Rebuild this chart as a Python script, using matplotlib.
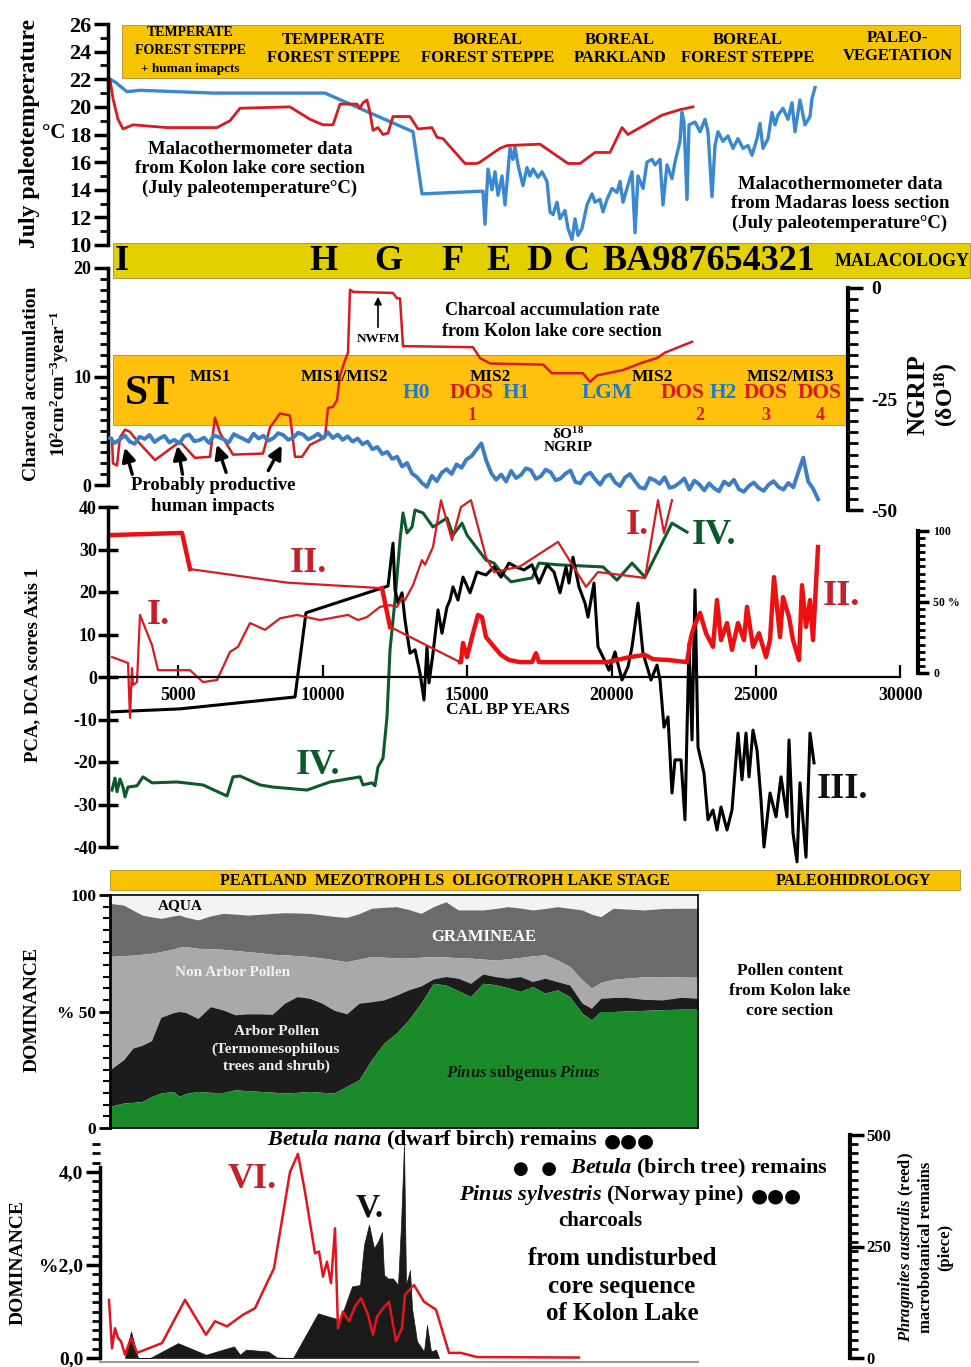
import matplotlib
matplotlib.use('Agg')
import matplotlib.pyplot as plt
import numpy as np
from matplotlib.patches import Rectangle, FancyArrowPatch
from matplotlib.ticker import MultipleLocator

plt.rcParams['font.family'] = ['Liberation Serif', 'DejaVu Serif']
plt.rcParams['font.weight'] = 'bold'
plt.rcParams['mathtext.fontset'] = 'custom'
plt.rcParams['mathtext.rm'] = 'Liberation Serif:bold'
plt.rcParams['mathtext.it'] = 'Liberation Serif:italic:bold'
plt.rcParams['mathtext.bf'] = 'Liberation Serif:bold'
plt.rcParams['axes.linewidth'] = 2.5
plt.rcParams['axes.unicode_minus'] = False

# ---------------- data (cal BP years / panel units) ----------------
# July paleotemperature, Kolon lake (red)
temp_kolon_age = [2632, 2735, 2909, 3082, 3428, 4605, 6337, 6787, 7133, 8864,
                  9557, 10007, 10353, 10596, 11184, 11288, 11392, 11530, 11634, 11738,
                  11911, 12085, 12258, 12431, 13019, 13296, 13781, 13954, 14162, 14924,
                  15339, 15443, 16136, 16378, 17521, 18490, 18906, 19425, 19945, 20360,
                  20568, 21745, 22368, 22818]
temp_kolon_c = [22.0, 20.6, 19.1, 18.4, 18.7, 18.5, 18.5, 19.0, 19.9, 20.0,
                19.1, 18.7, 18.7, 20.2, 20.2, 19.9, 20.3, 20.5, 19.6, 18.3,
                18.5, 18.0, 18.1, 19.3, 19.3, 18.4, 18.5, 17.8, 17.7, 15.9,
                15.9, 16.0, 17.0, 17.2, 17.3, 15.9, 15.9, 16.7, 16.7, 18.5,
                18.0, 19.4, 19.8, 20.0]

# July paleotemperature, Madaras loess (blue)
temp_madaras_age = [2632, 2805, 3220, 3670, 6198, 10076, 13123, 13435,
                    15547, 15616, 15720, 15859, 15963, 16066, 16205, 16309, 16482, 16586,
                    16655, 16759, 16932, 17071, 17174, 17278, 17452, 17590, 17763, 17867,
                    17971, 18109, 18213, 18386, 18490, 18629, 18733, 18837, 18975, 19148,
                    19321, 19425, 19598, 19702, 19841, 20014, 20187, 20291, 20395, 20533,
                    20707, 20811, 20914, 21087, 21226, 21399, 21503, 21676, 21780, 21918,
                    22091, 22195, 22368, 22438, 22507, 22611, 22680, 22888, 23061, 23234,
                    23338, 23476, 23580, 23684, 23857, 24030, 24204, 24377, 24550, 24723,
                    24862, 25035, 25139, 25242, 25416, 25554, 25658, 25762, 25935, 26108,
                    26246, 26350, 26523, 26697, 26870, 26939, 27043]
temp_madaras_c = [22.0, 21.8, 21.1, 21.2, 21.0, 21.0, 18.2, 13.7,
                  13.9, 11.5, 15.5, 14.0, 15.3, 13.6, 15.0, 12.9, 17.0, 16.2,
                  17.1, 15.8, 14.3, 15.6, 15.0, 15.5, 14.9, 15.3, 14.6, 12.4,
                  12.2, 13.1, 11.9, 12.5, 11.2, 10.4, 11.9, 10.7, 11.2, 12.9,
                  13.7, 13.1, 13.3, 12.4, 13.3, 14.1, 13.8, 14.6, 13.1, 14.1,
                  15.3, 10.9, 15.0, 14.1, 16.0, 16.2, 15.8, 16.2, 12.9, 15.8,
                  14.8, 16.0, 17.5, 19.6, 18.9, 13.3, 18.7, 18.9, 18.2, 19.1,
                  18.2, 13.5, 17.2, 18.2, 17.5, 17.9, 17.0, 17.7, 17.0, 17.2,
                  16.5, 17.7, 18.8, 17.0, 17.7, 19.6, 18.7, 19.4, 19.9, 19.1,
                  20.3, 18.2, 20.5, 18.7, 19.3, 20.6, 21.4]

veg_labels = ['TEMPERATE\nFOREST STEPPE\n+ human imapcts', 'TEMPERATE\nFOREST STEPPE',
              'BOREAL\nFOREST STEPPE', 'BOREAL\nPARKLAND', 'BOREAL\nFOREST STEPPE',
              'PALEO-\nVEGETATION']
malac_labels = ['I', 'H', 'G', 'F', 'E', 'D', 'C', 'BA987654321']

# Charcoal accumulation rate (10^2 cm^2 cm^-3 year^-1)
charcoal_age = [2701, 2735, 2874, 2978, 3151, 3324, 3566, 4190, 5055, 5575,
                6094, 6267, 6440, 6891, 7929, 8172, 8518, 8864, 9037, 9280,
                9557, 10076, 10180, 10353, 10492, 10596, 10769, 10873, 10942, 11046,
                12431, 12569, 12673, 12777, 15201, 15443, 15789, 17625, 17936, 19010,
                19252, 19494, 20395, 21087, 21572, 21849, 22784]
charcoal_rate = [4.3, 2.0, 1.8, 4.4, 5.1, 4.9, 4.1, 2.3, 4.0, 2.5,
                 2.6, 6.2, 4.8, 2.8, 2.9, 5.3, 6.6, 6.4, 2.6, 2.6,
                 3.7, 4.4, 7.1, 7.2, 7.8, 10.1, 11.5, 12.2, 18.0, 17.8,
                 17.7, 17.2, 17.2, 12.8, 12.7, 11.7, 11.2, 11.1, 10.3, 10.3,
                 9.5, 10.1, 10.6, 11.3, 11.7, 12.2, 13.2]

# NGRIP d18O, evenly spaced samples between these ages
ngrip_first_age, ngrip_last_age = 2630, 27150
ngrip_d18o = [-33.8, -34.9, -34.1, -33.2, -34.6, -35.1, -33.5, -34.0, -33.1, -34.7,
              -33.9, -33.3, -34.8, -34.2, -35.0, -33.4, -33.0, -34.5, -34.3, -33.7,
              -34.9, -33.2, -33.6, -34.1, -34.8, -32.9, -33.5, -34.0, -34.6, -32.8,
              -33.9, -33.3, -34.4, -33.8, -32.7, -33.1, -34.2, -33.7, -32.6, -33.0,
              -34.1, -33.6, -32.8, -33.9, -32.5,
              -33.8, -33.0, -34.2, -33.4, -34.6, -33.9,
              -35.2, -34.6, -36.3, -35.8, -37.4, -36.9, -38.5, -38.0, -40.2, -39.4, -41.8, -42.6,
              -43.9, -44.8, -42.3, -43.5, -41.6,
              -40.8, -41.9, -39.7, -40.5, -38.6, -37.9, -36.4, -35.0,
              -38.9, -41.7, -43.2, -42.0, -43.6,
              -41.2, -42.8, -42.1, -40.6, -41.0, -43.0, -42.4, -40.9, -41.5, -43.3,
              -42.9, -41.8, -41.1, -43.7, -44.0, -42.2, -41.6, -43.1, -44.3, -42.5,
              -42.0, -43.8, -44.6, -42.7, -41.9, -43.5, -44.9, -45.2, -42.8, -43.3,
              -44.1, -42.6, -45.0, -44.7, -43.9, -42.9, -45.4, -43.4, -44.2, -45.6,
              -44.0, -45.1, -45.8, -43.6, -44.4, -43.2, -45.3, -45.9, -44.6, -43.8,
              -45.0, -45.7, -44.3, -43.5, -44.8, -45.4, -43.9, -44.9, -41.5, -38.2,
              -43.6, -45.2, -47.6]

# PCA / DCA scores, axis 1
pca_I_age = [2701, 3255, 3324, 3393, 3428, 3566, 3670, 4086, 4294, 5402,
             5852, 6337, 6787, 7064, 7479, 7999, 8518, 9107, 9903, 10873,
             11219, 11530, 11981, 12327, 12569, 12742, 12846, 13123, 13435, 13539,
             13816, 14093, 14474, 14785, 15131, 15651, 15928, 16828, 18144, 19114,
             19529, 21157, 21607, 21814, 22091]
pca_I = [4.7, 3.3, -9.6, 2.1, -1.9, -1.2, 14.6, 7.5, 1.6, 1.6,
         -1.2, -0.7, 5.9, 7.1, 12.7, 11.1, 13.8, 14.6, 13.4, 14.6,
         13.4, 14.1, 16.5, 16.9, 16.5, 18.6, 18.1, 21.6, 27.5, 26.4,
         30.6, 41.6, 32.2, 40.0, 41.6, 28.2, 24.7, 26.0, 31.8, 21.2,
         24.7, 23.3, 41.6, 33.9, 41.6]

pca_II_age = [2701, 5125, 5402, 8760, 12050, 12327, 14751,
              14785, 14854, 14993, 15201, 15374, 15512, 15651, 15928, 16170, 16447,
              16828, 17244, 17382, 17486, 19841, 20637, 21157, 21434, 21953, 22611,
              22749, 22853, 23061, 23269, 23511, 23650, 23788, 23996, 24169, 24377,
              24584, 24688, 24896, 25104, 25346, 25485, 25623, 25831, 25935, 26143,
              26281, 26489, 26593, 26731, 26870, 26974, 27147]
pca_II = [33.4, 33.9, 25.4, 22.2, 20.9, 11.8, 3.5,
          3.5, 8.0, 4.7, 10.3, 14.6, 14.1, 9.4, 7.1, 5.2, 4.0,
          3.5, 3.5, 5.6, 3.5, 3.5, 4.7, 5.2, 4.2, 4.0, 3.5,
          9.4, 11.8, 15.1, 10.3, 7.1, 18.1, 8.7, 12.7, 6.4, 12.7,
          8.7, 16.5, 7.1, 10.3, 4.7, 8.7, 23.5, 9.4, 18.8, 14.1,
          8.7, 4.0, 21.6, 11.8, 18.1, 8.7, 30.6]

pca_III_age = [2701, 5055, 9037, 9418, 12258, 12431, 12500, 12604, 12742, 12846,
               13019, 13193, 13366, 13504, 13608, 13677, 13816, 13989, 14127, 14301,
               14404, 14508, 14681, 14855, 15097, 15339, 15651, 15928, 16170, 16447,
               16690, 16967, 17244, 17486, 17763, 18006, 18213, 18421, 18525, 18663,
               18871, 19079, 19183, 19391, 19529, 19702, 19910, 20118, 20360, 20568,
               20707, 20914, 21087, 21364, 21572, 21676, 21814, 21953, 22091, 22195,
               22403, 22541, 22680, 22784, 22888, 22992, 23199, 23338, 23511, 23650,
               23788, 23996, 24169, 24377, 24515, 24654, 24758, 24896, 25035, 25173,
               25277, 25485, 25693, 25866, 26073, 26143, 26281, 26420, 26523, 26731,
               26870, 27009]
pca_III = [-8.2, -7.5, -4.7, 15.1, 21.4, 31.5, 20.5, 17.4, 19.8, 13.4,
           5.6, 6.4, 0.9, -5.4, 7.1, -1.4, 5.6, 15.8, 10.3, 16.5,
           18.1, 21.2, 18.1, 23.5, 19.8, 24.7, 24.0, 25.9, 23.5, 26.8,
           25.9, 25.2, 26.4, 22.1, 26.4, 24.7, 19.8, 25.9, 22.1, 28.2,
           21.2, 17.4, 14.1, 22.1, 7.1, 4.7, 1.6, 5.9, -0.7, 2.4,
           7.1, 17.4, 5.6, -0.7, 2.8, -0.7, -11.8, -9.4, -27.3, -19.5,
           -19.5, -33.6, 8.0, -14.8, 20.5, -16.5, -22.6, -33.6, -31.3, -36.0,
           -30.6, -36.0, -31.3, -13.2, -24.2, -13.2, -23.5, -12.5, -17.2, -28.9,
           -40.0, -27.3, -32.9, -23.5, -32.9, -14.8, -36.7, -43.5, -24.9, -42.4,
           -13.2, -20.2]

pca_IV_age = [2701, 2805, 2874, 2978, 3082, 3151, 3255, 3566, 3774, 4086,
              4952, 5852, 6683, 6891, 7133, 7825, 8276, 9453, 10249, 11288,
              11392, 11704, 11807, 11911, 12085, 12223, 12327, 12500, 12673, 12777,
              12915, 13089, 13193, 13470, 13816, 14301, 14508, 14820, 14993, 15651,
              15928, 16170, 16517, 17244, 17486, 18144, 19702, 20187, 20707, 21157,
              22091, 22611]
pca_IV = [-26.6, -23.8, -27.0, -24.0, -25.9, -28.2, -25.9, -25.6, -23.5, -24.9,
          -24.7, -25.4, -28.0, -23.5, -23.3, -25.4, -25.9, -26.6, -24.7, -23.5,
          -25.4, -24.9, -25.6, -21.2, -19.1, -9.4, 6.4, 18.1, 32.2, 38.6,
          33.9, 35.3, 39.3, 38.6, 35.3, 37.4, 33.4, 36.2, 33.4, 27.5,
          26.8, 24.7, 22.4, 23.3, 26.8, 26.4, 25.9, 22.8, 26.8, 23.5,
          36.2, 34.1]

x_ticks = [5000, 10000, 15000, 20000, 25000, 30000]

# Pollen (cumulative tops of each layer, %)
pollen_age = [2632, 3103, 3425, 3747, 4069, 4391, 4820, 5035, 5249, 5679,
              6108, 6537, 6967, 7396, 7822, 8251, 8681, 9110, 9540, 9969,
              10398, 10828, 11257, 11686, 12116, 12545, 12971, 13400, 13830, 14259,
              14688, 15118, 15547, 15976, 16406, 16835, 17264, 17694, 18123, 18549,
              18979, 19301, 19623, 20052, 20481, 21125, 21769, 22414, 22992]
pinus_top = [9.3, 10.7, 11.0, 11.4, 13.5, 15.0, 15.7, 13.6, 14.8, 15.7,
             15.3, 15.2, 16.4, 16.0, 15.7, 15.4, 15.0, 15.3, 15.7, 15.3,
             15.0, 17.9, 20.7, 29.3, 36.4, 40.7, 46.4, 53.6, 62.1, 61.4,
             58.9, 56.4, 62.1, 61.5, 60.2, 58.6, 60.7, 57.9, 59.3, 56.4,
             49.3, 46.4, 50.0, 50.0, 50.2, 50.5, 50.8, 51.0, 51.0]
arbor_top = [25.0, 29.3, 34.3, 35.5, 37.5, 47.5, 49.5, 50.0, 49.6, 47.0,
             52.1, 50.7, 48.6, 49.0, 49.0, 48.8, 53.6, 56.4, 55.7, 53.6,
             50.5, 49.0, 53.6, 54.2, 55.0, 57.0, 59.3, 61.0, 64.0, 65.0,
             64.3, 62.1, 66.1, 65.0, 64.3, 65.0, 62.9, 64.3, 62.8, 61.4,
             53.6, 51.4, 55.7, 56.0, 56.1, 55.2, 55.0, 56.1, 55.7]
nap_top = [73.6, 74.0, 74.2, 74.6, 75.0, 75.7, 76.8, 77.6, 77.9, 77.1,
           77.0, 76.7, 76.2, 75.7, 75.2, 74.6, 74.3, 74.0, 73.6, 73.0,
           72.2, 71.4, 72.5, 73.6, 73.3, 73.0, 72.9, 73.3, 73.6, 73.4,
           73.1, 72.9, 72.5, 72.1, 72.6, 73.2, 73.9, 74.3, 72.1, 69.3,
           63.6, 60.0, 62.5, 63.8, 64.3, 64.9, 65.0, 64.8, 64.7]
gramineae_top = [96.4, 95.7, 93.5, 91.4, 90.6, 90.0, 91.0, 91.4, 90.5, 89.3,
                 91.0, 92.1, 91.8, 91.4, 91.7, 92.1, 92.4, 92.3, 92.1, 91.5,
                 90.8, 90.4, 92.0, 94.3, 94.7, 95.0, 93.8, 92.1, 95.0, 97.1,
                 93.6, 93.6, 93.6, 94.2, 95.0, 94.4, 93.6, 94.2, 95.0, 94.3,
                 93.6, 91.8, 90.7, 94.3, 94.0, 93.6, 94.2, 94.3, 94.3]

# Macrobotanical remains (dominance %)
vi_age = [2597, 2701, 2805, 2909, 3012, 3151, 3359, 3566, 4432, 5229,
          5956, 6267, 6683, 7237, 7652, 8310, 8864, 9141, 9384, 9730,
          9868, 10007, 10145, 10284, 10422, 10526, 10699, 10907, 11115, 11323,
          11565, 11738, 11877, 12085, 12292, 12535, 12742, 12846, 13158, 13504,
          13920, 14370, 14785, 15339, 18871]
vi_pct = [1.25, 0.21, 0.64, 0.43, 0.36, 0.07, 0.43, 0.11, 0.32, 1.25,
          0.50, 0.79, 0.68, 0.93, 1.07, 1.93, 4.00, 4.39, 3.57, 2.25,
          2.29, 1.75, 2.07, 1.61, 2.79, 0.64, 1.00, 0.79, 1.11, 1.29,
          0.93, 0.50, 0.89, 1.07, 1.21, 0.36, 0.64, 1.36, 1.57, 1.21,
          1.04, 0.11, 0.11, 0.02, 0.01]
v_age = [3151, 3359, 3601, 4017, 4986, 5956, 6925, 7133, 7341, 8102,
         8414, 8968, 9834, 10596, 11011, 11288, 11427, 11600, 11773, 11911,
         12050, 12119, 12258, 12431, 12604, 12708, 12812, 12881, 13019, 13089,
         13262, 13504, 13608, 13747, 13920, 14024]
v_pct = [0, 0.57, 0, 0, 0.32, 0.07, 0.25, 0.07, 0.18, 0.14,
         0.01, 0, 0.96, 0.82, 1.54, 1.57, 2.43, 2.87, 2.36, 2.50,
         2.71, 1.79, 1.71, 1.71, 1.57, 2.86, 4.60, 1.57, 1.89, 1.07,
         0.36, 0.14, 0.71, 0.14, 0.18, 0]

# ---------------- layout helpers (pixel space of the 971x1367 image) ----------------
W, H = 971, 1367
PX0, YR_PX = 34, 34.626       # x pixel of age 0, years per pixel

RED = '#DA1A1F'
LRED = '#C7202B'
BLUE = '#3A88CF'
TBLUE = '#1E7BC4'
GREEN = '#0C5A2C'

fig = plt.figure(figsize=(W / 100, H / 100), dpi=100)


def box(l, t, r, b):
    return [l / W, 1 - b / H, (r - l) / W, (b - t) / H]


def span(l, r):
    return ((l - PX0) * YR_PX, (r - PX0) * YR_PX)


def ftext(px, py, s, size=12, **kw):
    kw.setdefault('ha', 'center')
    kw.setdefault('va', 'center')
    fig.text(px / W, 1 - py / H, s, fontsize=size, fontweight='bold', **kw)


def band(l, t, r, b, color):
    fig.add_artist(Rectangle((l / W, 1 - b / H), (r - l) / W, (b - t) / H,
                             transform=fig.transFigure, facecolor=color,
                             edgecolor='#B89A3A', lw=0.7, zorder=-1))


def farrow(x1, y1, x2, y2, **kw):
    fig.add_artist(FancyArrowPatch((x1 / W, 1 - y1 / H), (x2 / W, 1 - y2 / H),
                                   transform=fig.transFigure, **kw))


def only_spine(ax, side):
    for s in ['top', 'bottom', 'left', 'right']:
        ax.spines[s].set_visible(s == side)
    ax.set_facecolor('none')
    ax.set_xticks([])


# ---------------- 1. July paleotemperature ----------------
ax_t = fig.add_axes(box(108, 24, 960, 245))
only_spine(ax_t, 'left')
ax_t.set_xlim(*span(108, 960))
ax_t.set_ylim(10, 26)
ax_t.plot(temp_madaras_age, temp_madaras_c, color=BLUE, lw=2.4)
ax_t.plot(temp_kolon_age, temp_kolon_c, color=RED, lw=2.0)
ax_t.yaxis.set_major_locator(MultipleLocator(2))
ax_t.yaxis.set_minor_locator(MultipleLocator(1))
ax_t.tick_params(axis='y', which='major', length=10, width=2.5, labelsize=16, pad=2)
ax_t.tick_params(axis='y', which='minor', length=6, width=2)

band(122, 25, 960, 78, '#F6C400')
veg_x = [190, 334, 488, 620, 748, 898]
for lab, x in zip(veg_labels, veg_x):
    if lab.startswith('TEMPERATE\nFOREST STEPPE\n'):
        first, second, third = lab.split('\n')
        ftext(x, 32, first, 10)
        ftext(x, 50, second, 10)
        ftext(x, 69, third, 9.5)
    else:
        ftext(x, 49 if x < 880 else 47, lab, 12, linespacing=1.2)

ftext(250, 169, 'Malacothermometer data\nfrom Kolon lake core section\n(July paleotemperature°C)',
      13.5, linespacing=1.2)
ftext(840, 204, 'Malacothermometer data\nfrom Madaras loess section\n(July paleotemperature°C)',
      13.5, linespacing=1.2)
ftext(29, 133, 'July paleotemperature', 17, rotation=90)
ftext(54, 133, '°C', 15)

# ---------------- 2. Malacology band ----------------
band(113, 243, 970, 278, '#E4D000')
malac_x = [122, 323, 388, 452, 498, 539, 576, 709]
for lab, x in zip(malac_labels, malac_x):
    ftext(x, 262, lab, 26)
ftext(902, 261, 'MALACOLOGY', 13)

# ---------------- 3. Charcoal + NGRIP ----------------
band(113, 355, 848, 425, '#FFC10E')
ax_c = fig.add_axes(box(108, 268, 960, 485))
only_spine(ax_c, 'left')
ax_c.set_xlim(*span(108, 960))
ax_c.set_ylim(0, 20)
ax_c.plot(charcoal_age, charcoal_rate, color=RED, lw=1.8)
ax_c.set_yticks([0, 10, 20])
ax_c.yaxis.set_minor_locator(MultipleLocator(1))
ax_c.tick_params(axis='y', which='major', length=10, width=2.5, labelsize=13, pad=2)
ax_c.tick_params(axis='y', which='minor', length=6, width=2)

ax_n = fig.add_axes(box(108, 288, 848, 510))
only_spine(ax_n, 'right')
ax_n.set_xlim(*span(108, 848))
ax_n.set_ylim(-50, 0)
ngrip_age = np.linspace(ngrip_first_age, ngrip_last_age, len(ngrip_d18o))
ax_n.plot(ngrip_age, ngrip_d18o, color='#3B7EC6', lw=2.8)
ax_n.spines['right'].set_linewidth(3)
ax_n.yaxis.tick_right()
ax_n.set_yticks([-50, -25, 0])
ax_n.yaxis.set_minor_locator(MultipleLocator(2.5))
ax_n.tick_params(axis='y', which='major', length=11, width=2.5, labelsize=14, pad=6)
ax_n.tick_params(axis='y', which='minor', length=7, width=2)

ftext(150, 394, 'ST', 30)
for txt, x, y, c, s in [('MIS1', 210, 377, 'k', 12.5), ('MIS1/MIS2', 345, 377, 'k', 12.5),
                        ('H0', 416, 393, TBLUE, 15.5), ('DOS', 472, 393, RED, 15.5),
                        ('1', 472, 415, RED, 13), ('MIS2', 490, 377, 'k', 12.5),
                        ('H1', 516, 393, TBLUE, 15.5), ('LGM', 607, 393, TBLUE, 15.5),
                        ('MIS2', 652, 377, 'k', 12.5), ('DOS', 683, 393, RED, 15.5),
                        ('2', 700, 415, RED, 13), ('H2', 723, 393, TBLUE, 15.5),
                        ('DOS', 766, 393, RED, 15.5), ('3', 766, 415, RED, 13),
                        ('MIS2/MIS3', 791, 377, 'k', 12.5), ('DOS', 820, 393, RED, 15.5),
                        ('4', 820, 415, RED, 13)]:
    ftext(x, y, txt, s, color=c)

ftext(552, 321, 'Charcoal accumulation rate\nfrom Kolon lake core section', 13, linespacing=1.25)
ftext(378, 339, 'NWFM', 9.5)
farrow(378, 330, 378, 294, arrowstyle='-|>', mutation_scale=11, lw=1.2, color='k')
ftext(568, 440, 'δO$^{18}$\nNGRIP', 11, linespacing=0.9)
ftext(213, 496, 'Probably productive\nhuman impacts', 13.5, linespacing=1.25)
for x1, y1, x2, y2 in [(133, 477, 124, 445), (183, 477, 177, 443),
                       (227, 475, 216, 442), (267, 473, 283, 443)]:
    farrow(x1, y1, x2, y2, arrowstyle='-|>', mutation_scale=20, lw=2.4, color='k')

ftext(31, 384, 'Charcoal accumulation', 14, rotation=90)
ftext(59, 384, '10$^{2}$cm$^{2}$cm$^{-3}$year$^{-1}$', 13.5, rotation=90)
ftext(918, 395, 'NGRIP', 18, rotation=90)
ftext(947, 395, '(δO$^{18}$)', 17, rotation=90)

# ---------------- 4. PCA / DCA scores ----------------
ax_p = fig.add_axes(box(108, 497, 960, 865))
ax_p.set_facecolor('none')
ax_p.set_xlim(*span(108, 960))
ax_p.set_ylim(-40 - 18 / 4.25, 40 + 10 / 4.25)
for s in ['top', 'right']:
    ax_p.spines[s].set_visible(False)
ax_p.spines['left'].set_bounds(-40, 40)
ax_p.spines['bottom'].set_position(('data', 0))
ax_p.spines['bottom'].set_bounds(span(108, 960)[0], 30000)
ax_p.spines['bottom'].set_linewidth(1.6)
ax_p.set_yticks(range(-40, 41, 10))
ax_p.tick_params(axis='y', direction='inout', length=14, width=2.5, labelsize=13, pad=1)
ax_p.set_xticks(x_ticks)
ax_p.tick_params(axis='x', direction='in', length=9, width=1.6, labelsize=13, pad=7)

ax_p.plot(pca_IV_age, pca_IV, color=GREEN, lw=2.2)
ax_p.plot(pca_III_age, pca_III, color='k', lw=2.2)
ax_p.plot(pca_I_age, pca_I, color=RED, lw=1.6)
ax_p.plot(pca_II_age, pca_II, color=RED, lw=1.6)
for a, b in [(0, 3), (4, 6), (6, len(pca_II))]:
    ax_p.plot(pca_II_age[a:b], pca_II[a:b], color='#EE1010', lw=3.2)

ax_pc = fig.add_axes(box(108, 531, 918, 673))
only_spine(ax_pc, 'right')
ax_pc.set_xlim(*span(108, 918))
ax_pc.set_ylim(0, 100)
ax_pc.spines['right'].set_linewidth(3)
ax_pc.yaxis.tick_right()
ax_pc.set_yticks([0, 50, 100])
ax_pc.set_yticklabels(['0', '50 %', '100'])
ax_pc.yaxis.set_minor_locator(MultipleLocator(5))
ax_pc.tick_params(axis='y', which='major', length=8, width=2.5, labelsize=8.5, pad=3)
ax_pc.tick_params(axis='y', which='minor', length=5, width=2)

for txt, x, y, c in [('I.', 158, 615, LRED), ('II.', 308, 563, LRED), ('IV.', 318, 766, GREEN),
                     ('I.', 637, 525, LRED), ('IV.', 714, 535, GREEN), ('II.', 841, 597, LRED),
                     ('III.', 842, 790, '#111111')]:
    ftext(x, y, txt, 26, color=c)
ftext(508, 710, 'CAL BP YEARS', 12.5)
ftext(33, 665, 'PCA, DCA scores Axis 1', 13.5, rotation=90)

# ---------------- 5. Paleohydrology band + pollen ----------------
band(110, 870, 960, 890, '#F8C200')
ftext(445, 881, 'PEATLAND  MEZOTROPH LS  OLIGOTROPH LAKE STAGE', 11.5)
ftext(853, 881, 'PALEOHIDROLOGY', 11.5)

ax_o = fig.add_axes(box(110, 895, 698, 1128))
ax_o.set_xlim(pollen_age[0], pollen_age[-1])
ax_o.set_ylim(0, 100)
ax_o.fill_between(pollen_age, gramineae_top, 100, color='#F3F3F3', lw=0)
ax_o.fill_between(pollen_age, nap_top, gramineae_top, color='#6B6B6B', lw=0)
ax_o.fill_between(pollen_age, arbor_top, nap_top, color='#A9A9A9', lw=0)
ax_o.fill_between(pollen_age, pinus_top, arbor_top, color='#1C1C1C', lw=0)
ax_o.fill_between(pollen_age, 0, pinus_top, color='#1B8A2B', lw=0)
for s in ['top', 'right', 'bottom']:
    ax_o.spines[s].set_linewidth(1.2)
ax_o.spines['left'].set_linewidth(2)
ax_o.set_xticks([])
ax_o.set_yticks([0, 50, 100])
ax_o.set_yticklabels(['0', '% 50', '100'])
ax_o.yaxis.set_minor_locator(MultipleLocator(5))
ax_o.tick_params(axis='y', which='major', length=8, width=2, labelsize=12.5, pad=2)
ax_o.tick_params(axis='y', which='minor', length=5, width=1.5)

ftext(180, 906, 'AQUA', 11)
ftext(484, 937, 'GRAMINEAE', 12, color='white')
ftext(233, 973, 'Non Arbor Pollen', 11, color='#F2F2F2')
ftext(276, 1049, 'Arbor Pollen\n(Termomesophilous\ntrees and shrub)', 11, color='#EDEDED',
      linespacing=1.4)
ftext(523, 1073, r'$\mathit{Pinus}$ subgenus $\mathit{Pinus}$', 12, color='#0B1E0B')
ftext(790, 991, 'Pollen content\nfrom Kolon lake\ncore section', 12.5, linespacing=1.3)
ftext(32, 1010, 'DOMINANCE', 14, rotation=90)

# ---------------- 6. Macrobotanical remains ----------------
ax_b = fig.add_axes(box(100, 1139, 698, 1362))
ax_b.set_facecolor('none')
ax_b.set_xlim(*span(100, 698))
ax_b.set_ylim(-4 / 46.5, 219 / 46.5)
for s in ['top', 'right']:
    ax_b.spines[s].set_visible(False)
ax_b.spines['left'].set_bounds(0, 4.1)
ax_b.spines['bottom'].set_color('#9A9A9A')
ax_b.spines['bottom'].set_linewidth(1.5)
ax_b.fill_between(v_age, 0, v_pct, color='#1A1A1A', lw=0.5)
ax_b.plot(vi_age, vi_pct, color='#E3141B', lw=1.8)
ax_b.set_xticks([])
ax_b.set_yticks([0, 2, 4])
ax_b.set_yticklabels(['0,0', '%2,0', '4,0'])
ax_b.yaxis.set_minor_locator(MultipleLocator(0.2))
ax_b.tick_params(axis='y', which='major', length=10, width=2.5, labelsize=14, pad=2)
ax_b.tick_params(axis='y', which='minor', length=6, width=2)

ax_r = fig.add_axes(box(100, 1135, 850, 1358))
only_spine(ax_r, 'right')
ax_r.set_xlim(0, 1)
ax_r.set_ylim(0, 500)
ax_r.spines['right'].set_linewidth(3)
ax_r.yaxis.tick_right()
ax_r.set_yticks([0, 250, 500])
ax_r.yaxis.set_minor_locator(MultipleLocator(20))
ax_r.tick_params(axis='y', which='major', length=10, width=2.5, labelsize=12, pad=2)
ax_r.tick_params(axis='y', which='minor', length=6, width=2)

ftext(598, 1140, r'$\mathit{Betula\ nana}$ (dwarf birch) remains', 16, ha='right')
ftext(604, 1141, '●●●', 14, ha='left', family=['DejaVu Sans'])
ftext(828, 1168, r'$\mathit{Betula}$ (birch tree) remains', 16, ha='right')
ftext(513, 1169, '●  ●', 13, ha='left', family=['DejaVu Sans'])
ftext(744, 1195, r'$\mathit{Pinus\ sylvestris}$ (Norway pine)', 16, ha='right')
ftext(751, 1196, '●●●', 14, ha='left', family=['DejaVu Sans'])
ftext(600, 1221, 'charcoals', 15)
ftext(622, 1286, 'from undisturbed\ncore sequence\nof Kolon Lake', 18, linespacing=1.25)
ftext(252, 1180, 'VI.', 26, color=LRED)
ftext(370, 1208, 'V.', 24, color='#111111')
ftext(18, 1263, 'DOMINANCE', 14, rotation=90)
ftext(906, 1247, r'$\mathit{Phragmites\ australis}$ (reed)', 12, rotation=90)
ftext(926, 1247, 'macrobotanical remains', 12, rotation=90)
ftext(945, 1247, '(piece)', 12, rotation=90)

fig.savefig('out.png', dpi=100, facecolor='white')
